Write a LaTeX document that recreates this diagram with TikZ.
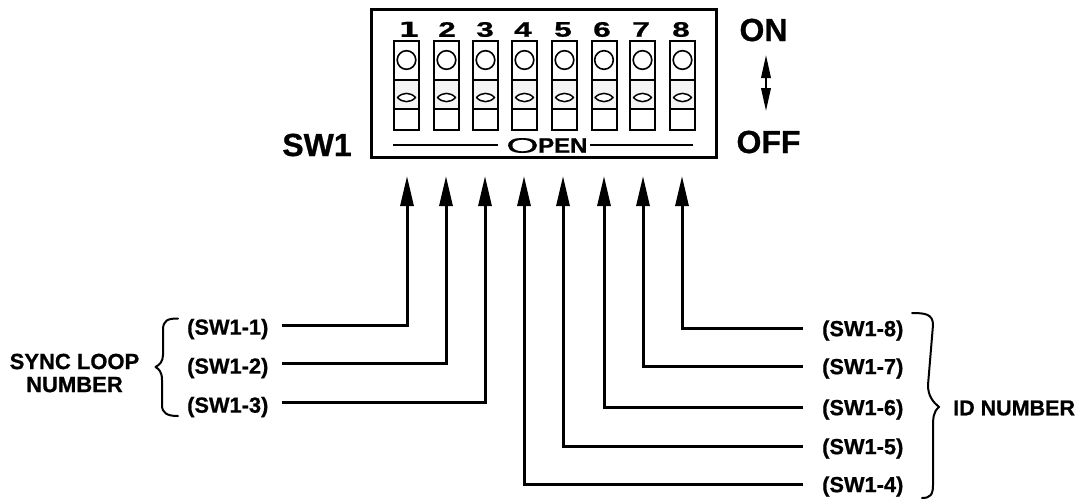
\documentclass[tikz,border=0pt]{standalone}
\usepackage{fontspec}
\setmainfont{Liberation Sans}[BoldFont={Liberation Sans Bold},BoldFeatures={FakeBold=0.8}]
\newfontfamily\djv{DejaVu Sans}[BoldFont={DejaVu Sans Bold}]
\newfontfamily\opof{Liberation Sans}[FakeBold=0.6]
\usetikzlibrary{arrows.meta}
\tikzset{
  lab/.style={inner sep=0pt,font=\fontsize{21.8}{22}\selectfont\bfseries},
  big/.style={inner sep=0pt,font=\fontsize{32}{32}\selectfont\bfseries},
  grp/.style={inner sep=0pt,font=\fontsize{22}{23}\selectfont\bfseries,align=center},
  digit/.style={inner sep=0pt,font=\fontsize{21}{21}\selectfont\bfseries,xscale=1.5},
  wire/.style={line width=3pt,-{Triangle[length=30pt,width=13pt]}},
  brace/.style={line width=2pt,line cap=round,line join=round},
  dipframe/.style={draw,line width=3pt},
}
\begin{document}
\begin{tikzpicture}[x=1pt,y=-1pt]
\useasboundingbox (0,0) rectangle (1081,499);
% DIP body
\draw[dipframe] (371,9.5) rectangle (716.5,157.5);
% switches
\foreach \n/\xc/\xd/\dg in {1/406.5/409/{\djv\bfseries 1},2/446.5/447/2,3/485.5/485/3,4/524.5/523/4,5/564.5/563/5,6/604/602/6,7/642.5/641/7,8/682.5/681/8}{
  \fill[gray!8] (\xc-12.5,80) rectangle (\xc+12.5,109);
  \draw[line width=2pt] (\xc-12.5,41) rectangle (\xc+12.5,130);
  \draw[line width=2pt] (\xc-12.5,80) -- (\xc+12.5,80) (\xc-12.5,109) -- (\xc+12.5,109);
  \draw[line width=1.6pt] (\xc,60) circle (9.3);
  \draw[line width=1.5pt,line join=round,fill=white] (\xc-9,97.5) .. controls (\xc-4,92) and (\xc+4,92) .. (\xc+9,97.5) .. controls (\xc+4,103) and (\xc-4,103) .. (\xc-9,97.5) -- cycle;
  \node[digit] (d\n) at (\xd,29.5) {\dg};
}
% OPEN
\node[inner sep=0pt,font=\fontsize{21}{21}\selectfont\opof] (opo) at (522.5,145.5) {\scalebox{2}[1]{O}};
\node[inner sep=0pt,anchor=west,font=\fontsize{21}{21}\selectfont\bfseries] (open) at (538,145.5) {\scalebox{1.14}[1]{PEN}};
\coordinate (ol) at (393,145); \coordinate (or) at (693,145);
\draw[line width=1.5pt,shorten >=8pt] (ol) -- (opo.west |- ol);
\draw[line width=1.5pt] (open.east |- or) ++(2,0) -- (or);
% side labels
\node[big] (sw1) at (317,145) {SW1};
\node[big] (on) at (763.5,30) {ON};
\node[big] (off) at (768.5,142) {OFF};
\draw[line width=2pt,{Triangle[length=23pt,width=9.5pt]}-{Triangle[length=23pt,width=9.5pt]},shorten <=-1pt,shorten >=-1pt]
  (766,56) coordinate (ua) -- (766,110) coordinate (ub);
% connector tips
\foreach \n/\xc in {1/407,2/446,3/485,4/524,5/563,6/604,7/643,8/682}{
  \coordinate (t\n) at (\xc,176);
}
% labels
\node[lab,anchor=west] (l1) at (187,329) {(SW1-1)};
\node[lab,anchor=west] (l2) at (187,368) {(SW1-2)};
\node[lab,anchor=west] (l3) at (187,407) {(SW1-3)};
\node[lab,anchor=west] (r8) at (822,330.5) {(SW1-8)};
\node[lab,anchor=west] (r7) at (822,368.5) {(SW1-7)};
\node[lab,anchor=west] (r6) at (822,409.5) {(SW1-6)};
\node[lab,anchor=west] (r5) at (822,448.5) {(SW1-5)};
\node[lab,anchor=west] (r4) at (822,486.5) {(SW1-4)};
\foreach \a/\b/\s in {l1/t1/4,l2/t2/4.5,l3/t3/5}{
  \draw[wire,shorten <=13pt] ([yshift=\s pt]\a.east) -| (\b);
}
\foreach \a/\b in {r8/t8,r7/t7,r6/t6,r5/t5,r4/t4}{
  \draw[wire,shorten <=19pt] ([yshift=2.5pt]\a.west) -| (\b);
}
% group labels
\node[grp] (sync) at (74.5,373) {SYNC LOOP\\NUMBER};
\node[grp,anchor=west,font=\fontsize{21.5}{23}\selectfont\bfseries] (idn) at (953,408) {ID NUMBER};
% braces
\draw[brace] (178,318.5) .. controls (168,318.5) and (163,320) .. (163,330) -- (163,355) .. controls (163,362) and (159,365) .. (155.5,367) .. controls (159,369) and (162,372) .. (162,380) -- (162,405) .. controls (162,413) and (167,416) .. (178,416);
\draw[brace] (912,313) .. controls (925,313) and (933,314) .. (933,325) -- (928,385) .. controls (928,396) and (933,402) .. (939,407) .. controls (933,412) and (933,418) .. (933,430) -- (933,485) .. controls (933,495) and (930,498) .. (922,498);
\end{tikzpicture}
\end{document}
